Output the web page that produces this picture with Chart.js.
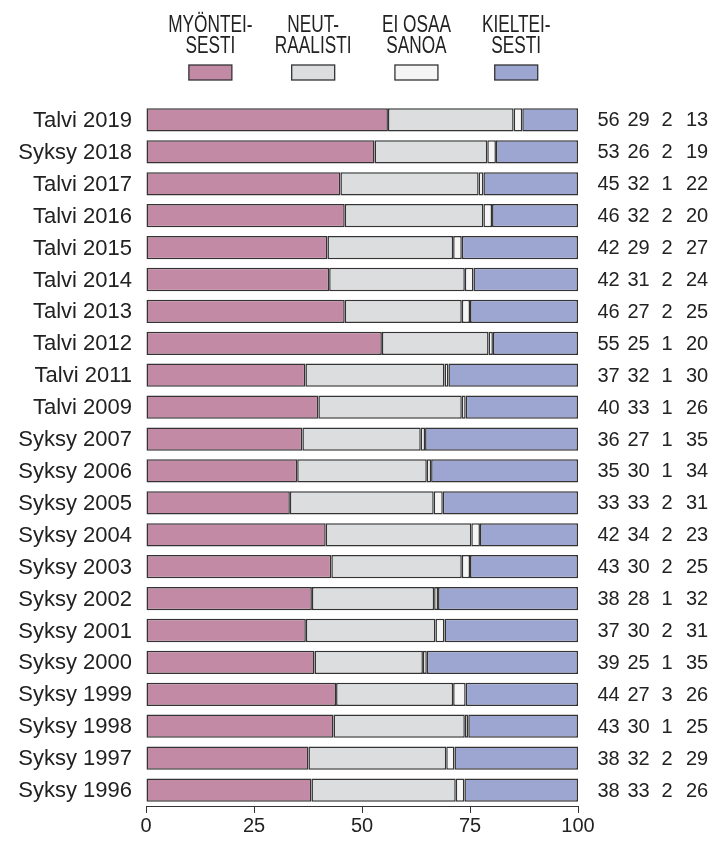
<!DOCTYPE html>
<html>
<head>
<meta charset="utf-8">
<script src="https://cdn.jsdelivr.net/npm/chart.js@4"></script>
<style>
    body { margin: 0; background: #fff; }
    #wrap { width: 712px; height: 842px; }
</style>
</head>
<body>
<div id="wrap"><canvas id="chart-canvas" width="712" height="842"></canvas></div>
<script>
const LABELS = [
    "Talvi 2019", "Syksy 2018", "Talvi 2017", "Talvi 2016", "Talvi 2015", "Talvi 2014",
    "Talvi 2013", "Talvi 2012", "Talvi 2011", "Talvi 2009", "Syksy 2007", "Syksy 2006",
    "Syksy 2005", "Syksy 2004", "Syksy 2003", "Syksy 2002", "Syksy 2001", "Syksy 2000",
    "Syksy 1999", "Syksy 1998", "Syksy 1997", "Syksy 1996"
];

// bar lengths
const MYONTEISESTI = [56.0, 52.9, 45.0, 46.0, 42.0, 42.4, 46.0, 54.6, 36.9, 39.9, 36.2, 35.0, 33.3, 41.6, 42.9, 38.4, 37.0, 39.0, 44.0, 43.4, 37.6, 38.3];
const NEUTRAALISTI = [29.1, 26.1, 32.0, 32.1, 29.1, 31.4, 27.1, 24.7, 32.2, 33.2, 27.4, 30.0, 33.3, 33.7, 30.2, 28.3, 30.0, 25.1, 27.1, 30.4, 31.9, 33.4];
const EI_OSAA      = [2.0, 2.0, 1.1, 2.0, 2.0, 2.0, 1.9, 1.0, 0.9, 0.9, 1.0, 1.0, 2.1, 2.0, 1.9, 0.9, 2.1, 0.9, 2.9, 0.8, 1.9, 2.0];
const KIELTEISESTI = [12.9, 19.0, 21.9, 19.9, 26.9, 24.2, 25.0, 19.7, 30.0, 26.0, 35.4, 34.0, 31.3, 22.7, 25.0, 32.4, 30.9, 35.0, 26.0, 25.4, 28.6, 26.3];

// numbers printed on the right
const SHOWN_MYON = [56, 53, 45, 46, 42, 42, 46, 55, 37, 40, 36, 35, 33, 42, 43, 38, 37, 39, 44, 43, 38, 38];
const SHOWN_NEUT = [29, 26, 32, 32, 29, 31, 27, 25, 32, 33, 27, 30, 33, 34, 30, 28, 30, 25, 27, 30, 32, 33];
const SHOWN_EOS  = [2, 2, 1, 2, 2, 2, 2, 1, 1, 1, 1, 1, 2, 2, 2, 1, 2, 1, 3, 1, 2, 2];
const SHOWN_KIEL = [13, 19, 22, 20, 27, 24, 25, 20, 30, 26, 35, 34, 31, 23, 25, 32, 31, 35, 26, 25, 29, 26];

const LEGEND_LINES = [["MYÖNTEI-", "SESTI"], ["NEUT-", "RAALISTI"], ["EI OSAA", "SANOA"], ["KIELTEI-", "SESTI"]];
const X_TICKS = [0, 25, 50, 75, 100];

const FONT = "'Liberation Sans', Arial, Helvetica, sans-serif";
const INK = "#222";
const EDGE = "#333";
const COLORS = ["#c28aa5", "#dcdddf", "#f5f5f5", "#9ca6d1"];

function dataset(label, data, color) {
    return {
        label: label,
        data: data,
        backgroundColor: color,
        borderColor: EDGE,
        borderWidth: 1.5,
        borderSkipped: false,
        barPercentage: 0.73,
        categoryPercentage: 1
    };
}

const legendPlugin = {
    id: "topLegend",
    afterDraw(chart) {
        const ctx = chart.ctx;
        const area = chart.chartArea;
        const centers = [0.149, 0.387, 0.626, 0.857];
        ctx.save();
        ctx.fillStyle = INK;
        ctx.font = "23px " + FONT;
        ctx.textAlign = "center";
        ctx.textBaseline = "alphabetic";
        LEGEND_LINES.forEach(function (lines, i) {
            const cx = area.left + centers[i] * (area.right - area.left);
            lines.forEach(function (line, j) {
                ctx.save();
                ctx.translate(cx, 31.5 + j * 21.5);
                ctx.scale(0.75, 1);
                ctx.fillStyle = INK;
                ctx.fillText(line, 0, 0);
                ctx.restore();
            });
            ctx.fillStyle = COLORS[i];
            ctx.fillRect(cx - 21.5, 65, 43, 15);
            ctx.strokeStyle = EDGE;
            ctx.lineWidth = 1.3;
            ctx.strokeRect(cx - 21.5, 65, 43, 15);
        });
        ctx.restore();
    }
};

const numbersPlugin = {
    id: "rowNumbers",
    afterDatasetsDraw(chart) {
        const ctx = chart.ctx;
        const y = chart.scales.y;
        const right = chart.chartArea.right;
        const cols = [30.5, 60.5, 89, 119];
        const shown = [SHOWN_MYON, SHOWN_NEUT, SHOWN_EOS, SHOWN_KIEL];
        ctx.save();
        ctx.fillStyle = INK;
        ctx.font = "20px " + FONT;
        ctx.textAlign = "center";
        ctx.textBaseline = "alphabetic";
        for (let i = 0; i < LABELS.length; i++) {
            const py = y.getPixelForValue(i) + 6.5;
            shown.forEach(function (arr, k) {
                ctx.fillText(String(arr[i]), right + cols[k], py);
            });
        }
        ctx.restore();
    }
};

const context = document.getElementById("chart-canvas").getContext("2d");

const chart = new Chart(context, {
    type: "bar",
    data: {
        labels: LABELS,
        datasets: [
            dataset("MYÖNTEISESTI", MYONTEISESTI, COLORS[0]),
            dataset("NEUTRAALISTI", NEUTRAALISTI, COLORS[1]),
            dataset("EI OSAA SANOA", EI_OSAA, COLORS[2]),
            dataset("KIELTEISESTI", KIELTEISESTI, COLORS[3])
        ]
    },
    options: {
        indexAxis: "y",
        responsive: false,
        animation: false,
        layout: {
            padding: {top: 104, right: 134, left: 0, bottom: 0}
        },
        plugins: {
            legend: {display: false},
            tooltip: {enabled: false}
        },
        scales: {
            x: {
                stacked: true,
                min: 0,
                max: 100,
                afterBuildTicks: function (scale) {
                    scale.ticks = X_TICKS.map(function (v) { return {value: v}; });
                },
                afterFit: function (scale) { scale.height = 36; },
                ticks: {
                    color: INK,
                    padding: 1,
                    maxRotation: 0,
                    font: {family: FONT, size: 20}
                },
                grid: {
                    drawOnChartArea: false,
                    drawTicks: true,
                    tickLength: 7,
                    color: EDGE,
                    lineWidth: 1
                },
                border: {display: true, color: EDGE, width: 1}
            },
            y: {
                stacked: true,
                afterFit: function (scale) { scale.width = 146; },
                ticks: {
                    color: INK,
                    padding: 14,
                    labelOffset: 1,
                    font: {family: FONT, size: 22}
                },
                grid: {display: false, drawTicks: false},
                border: {display: false}
            }
        }
    },
    plugins: [legendPlugin, numbersPlugin]
});
</script>
</body>
</html>
